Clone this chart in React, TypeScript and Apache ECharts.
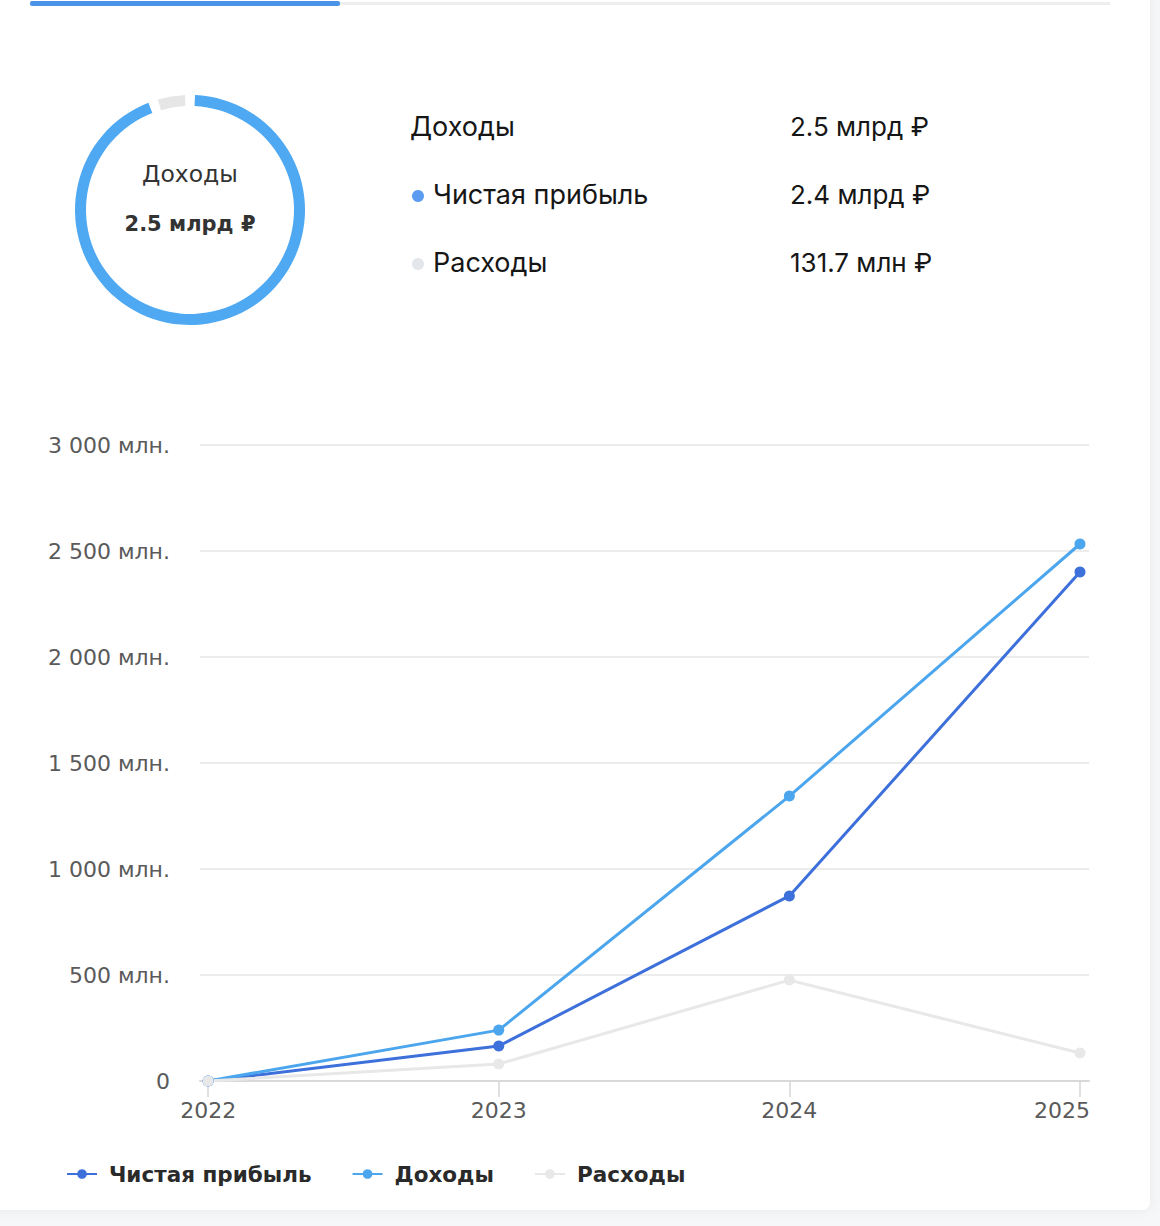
import { useEffect, useRef } from 'react';
import * as echarts from 'echarts';

const years = [2022, 2023, 2024, 2025];
const profit = [0, 165, 873, 2401];
const income = [0, 240, 1344, 2533];
const expenses = [0, 80, 476, 132];

const yTicks = [0, 500, 1000, 1500, 2000, 2500, 3000];

const summaryLabels = ['Доходы', 'Чистая прибыль', 'Расходы'];
const summaryValues = ['2.5 млрд ₽', '2.4 млрд ₽', '131.7 млн ₽'];
const donutNames = ['Чистая прибыль', 'Расходы'];
const donutValues = [2401, 131.7];

const BLUE_DARK = '#3d70da';
const BLUE_LIGHT = '#4ca6ee';
const GREY = '#e8e8e8';

const AXIS_FONT = '"DejaVu Sans", sans-serif';
const LIST_FONT = 'Inter, "Noto Sans", sans-serif';

function formatMln(v: number) {
  if (v === 0) return '0';
  if (v >= 1000) {
    return `${Math.floor(v / 1000)} ${String(v % 1000).padStart(3, '0')} млн.`;
  }
  return `${v} млн.`;
}

export default function App() {
  const chartRef = useRef<HTMLDivElement>(null);

  useEffect(() => {
    if (!chartRef.current) return;
    const chart = echarts.init(chartRef.current, null, { renderer: 'svg' });

    const rowY = [126, 194, 262];
    const listTexts: any[] = [];
    summaryLabels.forEach((label, i) => {
      listTexts.push({
        type: 'text',
        x: i === 0 ? 410 : 433,
        y: rowY[i],
        style: {
          text: label,
          fill: '#161616',
          font: `400 27px ${LIST_FONT}`,
          textVerticalAlign: 'middle',
        },
      });
      listTexts.push({
        type: 'text',
        x: 790,
        y: rowY[i],
        style: {
          text: summaryValues[i],
          fill: '#161616',
          font: `400 26px ${LIST_FONT}`,
          textVerticalAlign: 'middle',
        },
      });
    });

    const series = [
      { name: 'Чистая прибыль', color: BLUE_DARK, values: profit },
      { name: 'Доходы', color: BLUE_LIGHT, values: income },
      { name: 'Расходы', color: GREY, values: expenses },
    ].map((s) => ({
      name: s.name,
      type: 'line' as const,
      data: years.map((y, i) => [y, s.values[i]]),
      symbol: 'circle',
      symbolSize: 11,
      lineStyle: { width: 3, color: s.color },
      itemStyle: { color: s.color },
    }));

    const lastYear = years[years.length - 1];

    chart.setOption({
      animation: false,
      backgroundColor: '#f6f7f9',
      graphic: [
        {
          type: 'rect',
          shape: { x: -20, y: -20, width: 1170, height: 1230, r: 8 },
          style: { fill: '#ffffff', shadowBlur: 12, shadowColor: 'rgba(0,0,0,0.06)' },
          z: -10,
        },
        {
          type: 'rect',
          shape: { x: 340, y: 2, width: 770, height: 3 },
          style: { fill: '#eeeeee' },
        },
        {
          type: 'rect',
          shape: { x: 30, y: 1, width: 310, height: 5, r: 2 },
          style: { fill: '#4a93e6' },
        },
        {
          type: 'text',
          x: 190,
          y: 174,
          style: {
            text: 'Доходы',
            fill: '#333',
            font: `400 23.5px ${AXIS_FONT}`,
            textAlign: 'center',
            textVerticalAlign: 'middle',
          },
        },
        {
          type: 'text',
          x: 190,
          y: 224,
          style: {
            text: '2.5 млрд ₽',
            fill: '#333',
            font: `700 21px ${AXIS_FONT}`,
            textAlign: 'center',
            textVerticalAlign: 'middle',
          },
        },
        {
          type: 'circle',
          shape: { cx: 418, cy: 196, r: 6 },
          style: { fill: '#5b9bf0' },
        },
        {
          type: 'circle',
          shape: { cx: 418, cy: 264, r: 6 },
          style: { fill: '#e3e6ea' },
        },
        ...listTexts,
      ],
      legend: {
        left: 66,
        top: 1163,
        padding: 0,
        itemWidth: 30,
        itemHeight: 12,
        itemGap: 40,
        data: ['Чистая прибыль', 'Доходы', 'Расходы'],
        textStyle: {
          fontFamily: AXIS_FONT,
          fontWeight: 'bold',
          fontSize: 21.5,
          color: '#2a2a2a',
          padding: [0, 0, 0, 7],
        },
      },
      grid: {
        left: 200,
        right: 71,
        top: 445,
        bottom: 145,
        containLabel: false,
      },
      xAxis: {
        type: 'value',
        min: 2021.972,
        max: 2025.031,
        splitLine: { show: false },
        axisLine: { lineStyle: { color: '#d9d9d9', width: 2 } },
        axisTick: {
          show: true,
          length: 16,
          customValues: years,
          lineStyle: { color: '#d6d6d6', width: 1.5 },
        },
        axisLabel: {
          customValues: years,
          formatter: (v: number) => (v === lastYear ? `{last|${v}}` : String(v)),
          margin: 18,
          color: '#5a5a5a',
          fontFamily: AXIS_FONT,
          fontSize: 22,
          rich: {
            last: {
              color: '#5a5a5a',
              fontFamily: AXIS_FONT,
              fontSize: 22,
              padding: [0, 36, 0, 0],
            },
          },
        },
      },
      yAxis: {
        type: 'value',
        min: 0,
        max: 3000,
        interval: 500,
        axisLine: { show: false },
        axisTick: { show: false },
        splitLine: { lineStyle: { color: '#e6e6e6', width: 1.5 } },
        axisLabel: {
          customValues: yTicks,
          formatter: formatMln,
          margin: 30,
          color: '#5a5a5a',
          fontFamily: AXIS_FONT,
          fontSize: 22,
        },
      },
      series: [
        ...series,
        {
          name: 'Доходы, структура',
          type: 'pie',
          center: [190, 210],
          radius: [104, 115],
          startAngle: 90,
          padAngle: 5,
          silent: true,
          label: { show: false },
          labelLine: { show: false },
          data: donutNames.map((n, i) => ({
            name: n,
            value: donutValues[i],
            itemStyle: { color: i === 0 ? '#4ea8f2' : '#e6e6e6' },
          })),
        },
      ],
    });

    return () => {
      chart.dispose();
    };
  }, []);

  return (
    <div
      ref={chartRef}
      style={{ position: 'absolute', top: 0, left: 0, width: 1160, height: 1226 }}
    />
  );
}
